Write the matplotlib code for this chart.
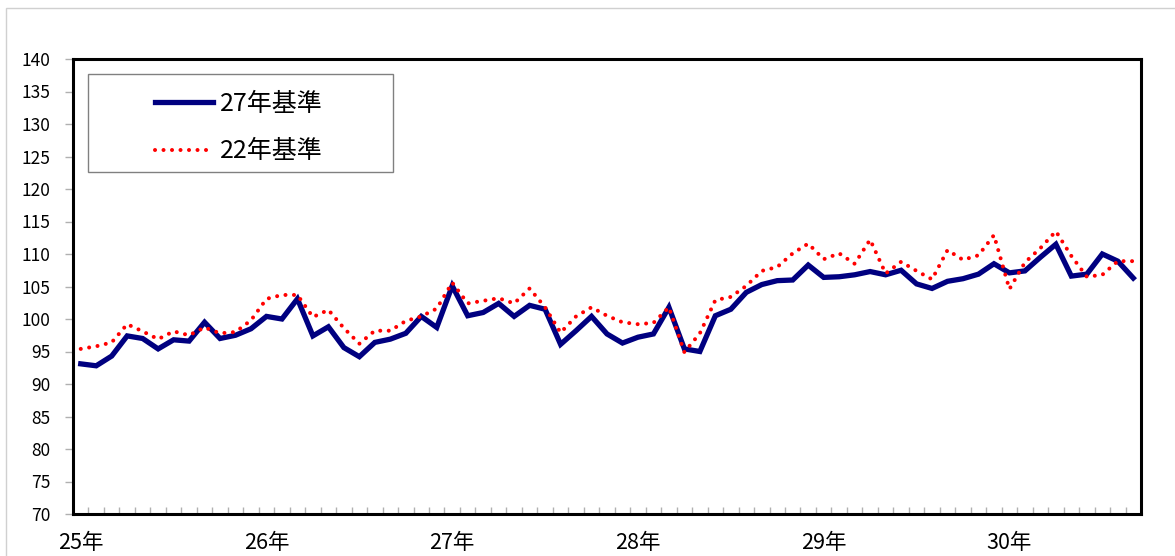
import matplotlib
matplotlib.use("Agg")
import matplotlib.pyplot as plt
from matplotlib.patches import Rectangle
from matplotlib.ticker import FixedLocator, NullFormatter

plt.rcParams['font.family'] = ['Noto Sans CJK JP', 'DejaVu Sans']

# ---- data ----
year_labels = ["25年", "26年", "27年", "28年", "29年", "30年"]
series_names = ["27年基準", "22年基準"]

base27 = [93.1, 92.8, 94.3, 97.4, 97.0, 95.4, 96.8, 96.6, 99.5, 97.0, 97.5, 98.5,
          100.4, 100.0, 103.1, 97.4, 98.8, 95.6, 94.2, 96.4, 96.9, 97.8, 100.4, 98.7,
          105.1, 100.5, 101.0, 102.4, 100.4, 102.1, 101.5, 96.1, 98.2, 100.4, 97.7, 96.3,
          97.2, 97.7, 101.8, 95.4, 95.0, 100.5, 101.5, 104.1, 105.3, 105.9, 106.0, 108.3,
          106.4, 106.5, 106.8, 107.3, 106.8, 107.5, 105.4, 104.7, 105.8, 106.2, 106.9, 108.5,
          107.1, 107.4, 109.5, 111.5, 106.6, 106.9, 110.0, 108.9, 106.3]

base22 = [95.4, 95.8, 96.4, 99.2, 98.1, 96.9, 98.1, 97.5, 98.7, 97.8, 98.0, 99.8,
          103.1, 103.7, 103.7, 100.3, 101.4, 98.6, 96.2, 98.2, 98.2, 99.7, 100.4, 101.6,
          105.6, 102.4, 102.8, 103.2, 102.4, 104.7, 101.8, 97.9, 100.4, 101.8, 100.5, 99.5,
          99.2, 99.4, 101.8, 94.9, 97.8, 102.9, 103.4, 105.1, 107.4, 108.0, 110.1, 111.6,
          109.2, 110.1, 108.5, 112.2, 107.0, 108.8, 107.4, 106.1, 110.6, 109.1, 109.8, 112.9,
          104.6, 108.7, 110.9, 113.5, 109.7, 106.5, 106.8, 108.9, 108.9]

y_ticks = list(range(70, 141, 5))

# ---- figure ----
W, H = 1175, 556
fig = plt.figure(figsize=(W / 100, H / 100), dpi=100)

def fx(px):
    return px / W

def fy(py):
    return 1 - py / H

# outer chart border
fig.patches.append(Rectangle((fx(6), fy(1000)), fx(1200), fy(8) - fy(1000),
                             transform=fig.transFigure, fill=False,
                             edgecolor="#d0d0d0", linewidth=1.0))

left, right, top, bottom = 73, 1141, 59, 514
ax = fig.add_axes([fx(left), fy(bottom), fx(right) - fx(left), fy(top) - fy(bottom)])

n = len(base27)
x = list(range(n))
l1, = ax.plot(x, base27, color="#000080", linewidth=3.8, solid_joinstyle="miter",
              label=series_names[0], zorder=3)
l2, = ax.plot(x, base22, color="#ff0000", linewidth=2.9, linestyle=(0, (0.01, 2.1)),
              dash_capstyle="round", label=series_names[1], zorder=4)

ax.set_xlim(-0.5, n - 0.5)
ax.set_ylim(70, 140)

ax.set_yticks(y_ticks)
ax.set_yticklabels([str(v) for v in y_ticks])
ax.tick_params(axis="y", direction="out", length=6, width=1, color="#b0b0b0",
               pad=10, labelsize=12.5, labelcolor="black")

ax.set_xticks([12 * i for i in range(len(year_labels))])
ax.set_xticklabels(year_labels)
ax.tick_params(axis="x", which="major", length=0, pad=13, labelsize=15.5)
ax.xaxis.set_minor_locator(FixedLocator([k - 0.5 for k in range(n + 1)]))
ax.xaxis.set_minor_formatter(NullFormatter())
ax.tick_params(axis="x", which="minor", direction="in", length=5, width=1,
               color="#b0b0b0")

for s in ax.spines.values():
    s.set_linewidth(2.2)
    s.set_color("black")

# legend
frame = Rectangle((fx(88), fy(172)), fx(393) - fx(88), fy(74) - fy(172),
                  transform=fig.transFigure, fill=True, facecolor="white",
                  edgecolor="#808080", linewidth=1.0, zorder=5, clip_on=False)
ax.add_patch(frame)
leg = ax.legend(handles=[l1, l2], loc="upper left",
                bbox_to_anchor=(fx(155), fy(91)), bbox_transform=fig.transFigure,
                frameon=False, fontsize=18, handlelength=2.3, handletextpad=0.28,
                labelspacing=0.85, borderpad=0.0, borderaxespad=0.0)
leg.set_zorder(6)

fig.savefig("out.png", dpi=100)
